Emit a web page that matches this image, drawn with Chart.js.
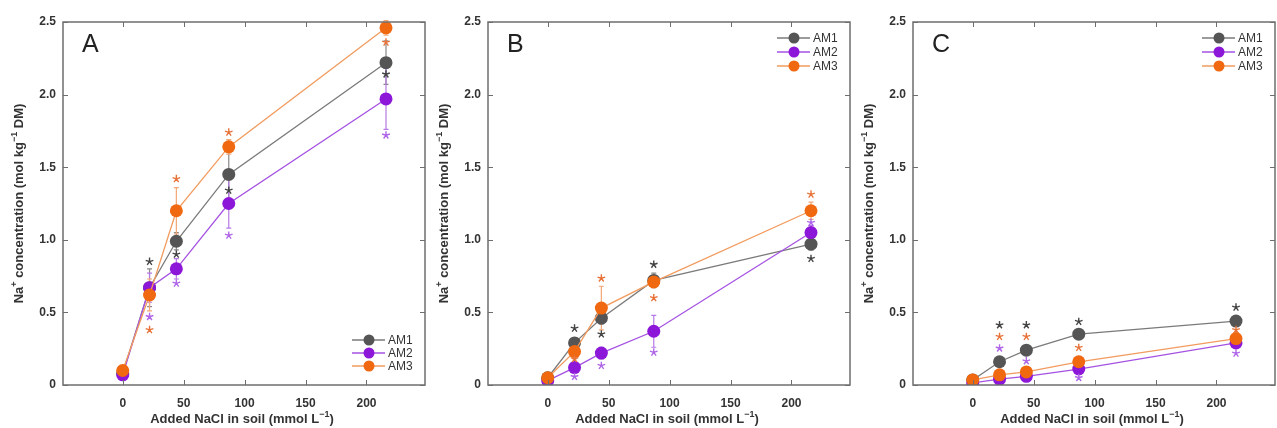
<!DOCTYPE html>
<html>
<head>
<meta charset="utf-8">
<script src="https://cdn.jsdelivr.net/npm/chart.js@4/dist/chart.umd.min.js"></script>
<style>
  body { margin: 0; background: #fff; }
  .panel { position: absolute; top: 0; }
</style>
</head>
<body>
<div class="panel" style="left:0"><canvas id="chartA" width="426" height="428"></canvas></div>
<div class="panel" style="left:425px"><canvas id="chartB" width="426" height="428"></canvas></div>
<div class="panel" style="left:850px"><canvas id="chartC" width="426" height="428"></canvas></div>
<script>
// added NaCl in soil (mmol/L)
const nacl = [0, 22, 44, 87, 216]
const xTicks = [0, 50, 100, 150, 200]
const seriesNames = ['AM1', 'AM2', 'AM3']

// panel A
const aAM1 = [0.08, 0.67, 0.99, 1.45, 2.22]
const aAM2 = [0.07, 0.67, 0.80, 1.25, 1.97]
const aAM3 = [0.10, 0.62, 1.20, 1.64, 2.46]
const aErrAM1 = [0.01, 0.13, 0.06, 0.18, 0.15]
const aErrAM2 = [0.01, 0.10, 0.07, 0.17, 0.21]
const aErrAM3 = [0.01, 0.11, 0.16, 0.05, 0.05]
const aStarAM1 = [null, 0.85, 0.90, 1.34, 2.14]
const aStarAM2 = [null, 0.47, 0.70, 1.03, 1.72]
const aStarAM3 = [null, 0.38, 1.42, 1.74, 2.36]

// panel B
const bAM1 = [0.05, 0.29, 0.46, 0.72, 0.97]
const bAM2 = [0.03, 0.12, 0.22, 0.37, 1.05]
const bAM3 = [0.05, 0.23, 0.53, 0.71, 1.20]
const bErrAM1 = [0.01, 0.03, 0.04, 0.05, 0.04]
const bErrAM2 = [0.01, 0.03, 0.04, 0.11, 0.05]
const bErrAM3 = [0.01, 0.05, 0.15, 0.03, 0.06]
const bStarAM1 = [null, 0.39, 0.35, 0.83, 0.87]
const bStarAM2 = [null, 0.057, 0.133, 0.225, 1.118]
const bStarAM3 = [null, 0.18, 0.735, 0.60, 1.313]

// panel C
const cAM1 = [0.035, 0.16, 0.24, 0.35, 0.44]
const cAM2 = [0.015, 0.04, 0.06, 0.11, 0.29]
const cAM3 = [0.035, 0.07, 0.09, 0.16, 0.32]
const cErrAM1 = [0.01, 0.015, 0.015, 0.02, 0.02]
const cErrAM2 = [0.005, 0.01, 0.01, 0.015, 0.02]
const cErrAM3 = [0.01, 0.01, 0.015, 0.015, 0.02]
const cStarAM1 = [null, 0.413, 0.413, 0.436, 0.535]
const cStarAM2 = [null, 0.253, 0.165, 0.05, 0.218]
const cStarAM3 = [null, 0.333, 0.333, 0.257, 0.38]

// axis titles, pieces marked sup are raised
const xTitle = [['Added NaCl in soil (mmol L', false], ['\u22121', true], [')', false]]
const yTitle = [['Na', false], ['+', true], [' concentration (mol kg', false], ['\u22121', true], [' DM)', false]]

const markerColors = ['#555555', '#8c17d8', '#f0680f']
const lineColors = ['#7a7a7a', '#a552e2', '#f29b5e']
const errColors = ['#8a8a8a', '#b57ae6', '#f2a774']
const starColors = ['#444444', '#b066e8', '#e8733a']
const FONT = "'Liberation Sans', Arial, Helvetica, sans-serif"

function drawStar(ctx, x, y, r){
    ctx.beginPath()
    for(let i = 0; i < 5; i++){
        const a = -Math.PI / 2 + i * 2 * Math.PI / 5
        ctx.moveTo(x, y)
        ctx.lineTo(x + r * Math.cos(a), y + r * Math.sin(a))
    }
    ctx.stroke()
}

// draws text with superscripts centred on (0,0) of the current transform
function drawRich(ctx, parts){
    const main = 'bold 13px ' + FONT, sup = 'bold 9px ' + FONT
    let total = 0
    parts.forEach(([t, s]) => { ctx.font = s ? sup : main; total += ctx.measureText(t).width })
    let x = -total / 2
    ctx.textAlign = 'left'
    ctx.textBaseline = 'alphabetic'
    parts.forEach(([t, s]) => {
        ctx.font = s ? sup : main
        ctx.fillText(t, x, s ? -1 : 4.5)
        x += ctx.measureText(t).width
    })
}

const decor = {
    id: 'decor',
    beforeDatasetsDraw(chart, args, opts){
        const ctx = chart.ctx
        const xs = chart.scales.x, ys = chart.scales.y
        ctx.save()
        ctx.lineWidth = 1.2
        opts.errors.forEach((errs, s) => {
            ctx.strokeStyle = errColors[s]
            errs.forEach((e, i) => {
                const v = opts.values[s][i]
                const px = xs.getPixelForValue(nacl[i])
                const y1 = ys.getPixelForValue(v - e), y2 = ys.getPixelForValue(v + e)
                ctx.beginPath()
                ctx.moveTo(px, y1); ctx.lineTo(px, y2)
                ctx.moveTo(px - 2.5, y1); ctx.lineTo(px + 2.5, y1)
                ctx.moveTo(px - 2.5, y2); ctx.lineTo(px + 2.5, y2)
                ctx.stroke()
            })
        })
        ctx.restore()
    },
    afterDatasetsDraw(chart, args, opts){
        const ctx = chart.ctx
        const area = chart.chartArea
        const xs = chart.scales.x, ys = chart.scales.y
        ctx.save()
        // significance stars
        ctx.lineWidth = 1.4
        opts.stars.forEach((stars, s) => {
            ctx.strokeStyle = starColors[s]
            stars.forEach((v, i) => {
                if(v === null) return
                drawStar(ctx, xs.getPixelForValue(nacl[i]), ys.getPixelForValue(v), 4)
            })
        })
        // frame + inward ticks
        ctx.strokeStyle = '#6e6e6e'
        ctx.lineWidth = 1.5
        ctx.strokeRect(area.left, area.top, area.right - area.left, area.bottom - area.top)
        ctx.lineWidth = 1
        ctx.beginPath()
        xTicks.forEach(t => {
            const px = Math.round(xs.getPixelForValue(t)) + 0.5
            ctx.moveTo(px, area.bottom); ctx.lineTo(px, area.bottom - 5)
            ctx.moveTo(px, area.top); ctx.lineTo(px, area.top + 5)
        })
        ys.ticks.forEach(t => {
            const py = Math.round(ys.getPixelForValue(t.value)) + 0.5
            ctx.moveTo(area.left, py); ctx.lineTo(area.left + 5, py)
            ctx.moveTo(area.right, py); ctx.lineTo(area.right - 5, py)
        })
        ctx.stroke()
        // axis titles
        ctx.fillStyle = '#333'
        ctx.save()
        ctx.translate((area.left + area.right) / 2 - 2, 418)
        drawRich(ctx, xTitle)
        ctx.restore()
        ctx.save()
        ctx.translate(18, (area.top + area.bottom) / 2)
        ctx.rotate(-Math.PI / 2)
        drawRich(ctx, yTitle)
        ctx.restore()
        // panel letter
        ctx.fillStyle = '#222'
        ctx.font = '25px ' + FONT
        ctx.textBaseline = 'alphabetic'
        ctx.textAlign = 'left'
        ctx.fillText(opts.letter, area.left + 19, area.top + 30)
        // legend
        const rowY = opts.legendAtBottom
            ? [area.bottom - 45, area.bottom - 32, area.bottom - 19]
            : [area.top + 16, area.top + 30, area.top + 44]
        ctx.font = '12px ' + FONT
        ctx.textBaseline = 'middle'
        seriesNames.forEach((name, s) => {
            const y = rowY[s]
            ctx.strokeStyle = lineColors[s]
            ctx.lineWidth = 1.3
            ctx.beginPath()
            ctx.moveTo(area.right - 73, y); ctx.lineTo(area.right - 40, y)
            ctx.stroke()
            ctx.fillStyle = markerColors[s]
            ctx.beginPath()
            ctx.arc(area.right - 56, y, 5.5, 0, Math.PI * 2)
            ctx.fill()
            ctx.fillStyle = '#333'
            ctx.fillText(name, area.right - 37, y + 0.5)
        })
        ctx.restore()
    }
}

function renderPanel(id, letter, values, errors, stars, legendAtBottom){
    const datasets = values.map((vals, s) => ({
        label: seriesNames[s],
        data: vals.map((v, i) => ({ x: nacl[i], y: v })),
        borderColor: lineColors[s],
        borderWidth: 1.3,
        pointRadius: 6.5,
        pointBackgroundColor: markerColors[s],
        pointBorderWidth: 0,
        tension: 0,
        order: 3 - s
    }))
    const tickFont = { family: FONT, size: 12, weight: 'bold' }
    new Chart(document.getElementById(id), {
        type: 'line',
        data: { datasets },
        options: {
            responsive: false,
            animation: false,
            devicePixelRatio: 1,
            layout: { autoPadding: false, padding: { top: 22, right: 1, left: 0, bottom: 0 } },
            scales: {
                x: {
                    type: 'linear', min: -49, max: 248,
                    afterBuildTicks(scale){ scale.ticks = xTicks.map(v => ({ value: v })) },
                    afterFit(scale){ scale.height = 43; scale.paddingLeft = 0; scale.paddingRight = 0 },
                    grid: { display: false, drawTicks: false },
                    border: { display: false },
                    ticks: { font: tickFont, color: '#333', padding: 11, maxRotation: 0 }
                },
                y: {
                    min: 0, max: 2.5,
                    afterFit(scale){ scale.width = 63; scale.paddingTop = 0; scale.paddingBottom = 0 },
                    grid: { display: false, drawTicks: false },
                    border: { display: false },
                    ticks: {
                        stepSize: 0.5, font: tickFont, color: '#333', padding: 7,
                        callback: v => v === 0 ? '0' : v.toFixed(1)
                    }
                }
            },
            plugins: {
                legend: { display: false },
                tooltip: { enabled: false },
                decor: { letter, values, errors, stars, legendAtBottom }
            }
        },
        plugins: [decor]
    })
}

renderPanel('chartA', 'A', [aAM1, aAM2, aAM3], [aErrAM1, aErrAM2, aErrAM3], [aStarAM1, aStarAM2, aStarAM3], true)
renderPanel('chartB', 'B', [bAM1, bAM2, bAM3], [bErrAM1, bErrAM2, bErrAM3], [bStarAM1, bStarAM2, bStarAM3], false)
renderPanel('chartC', 'C', [cAM1, cAM2, cAM3], [cErrAM1, cErrAM2, cErrAM3], [cStarAM1, cStarAM2, cStarAM3], false)
</script>
</body>
</html>
